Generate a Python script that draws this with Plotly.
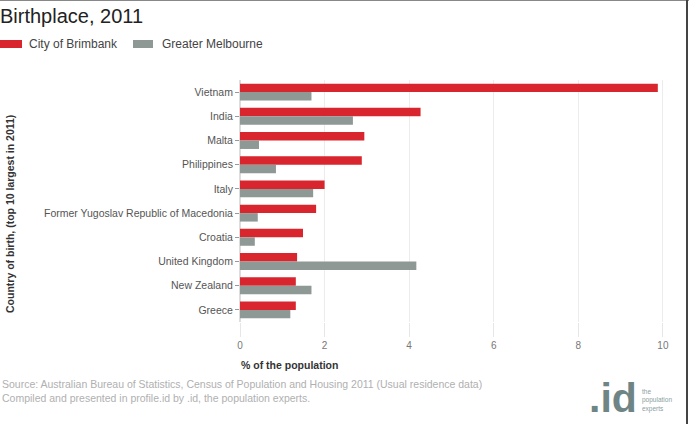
import plotly.graph_objects as go

countries = ["Vietnam", "India", "Malta", "Philippines", "Italy",
             "Former Yugoslav Republic of Macedonia", "Croatia",
             "United Kingdom", "New Zealand", "Greece"]
brimbank = [9.88, 4.27, 2.94, 2.88, 2.00, 1.80, 1.49, 1.35, 1.32, 1.32]
melbourne = [1.69, 2.67, 0.45, 0.85, 1.73, 0.42, 0.35, 4.17, 1.69, 1.19]
x_ticks = [0, 2, 4, 6, 8, 10]
series_names = ["City of Brimbank", "Greater Melbourne"]

RED = "#d9252d"
GREY = "#8e9894"
FONT = "Liberation Sans, Arial, sans-serif"

W, H = 689, 424
L, R, T, B = 240, 24, 80, 102
PW, PH = W - L - R, H - T - B


def px(x):
    return (x - L) / PW


def py(y):
    return (H - B - y) / PH


fig = go.Figure()
fig.add_trace(go.Bar(y=countries, x=brimbank, orientation="h", name=series_names[0],
                     marker=dict(color=RED, line=dict(width=0)), showlegend=False))
fig.add_trace(go.Bar(y=countries, x=melbourne, orientation="h", name=series_names[1],
                     marker=dict(color=GREY, line=dict(width=0)), showlegend=False))

fig.update_layout(
    width=W, height=H,
    margin=dict(l=L, r=R, t=T, b=B, autoexpand=False),
    paper_bgcolor="white", plot_bgcolor="white",
    barmode="group", bargap=0.3, bargroupgap=0.0,
    font=dict(family=FONT, size=10, color="#555"),
    title=dict(text="Birthplace, 2011", x=0.0, xanchor="left", xref="container",
               y=1 - 16 / H, yanchor="middle", yref="container",
               font=dict(family=FONT, size=20, color="#222")),
    showlegend=False,
    xaxis=dict(range=[0, 10.05], tickvals=x_ticks, showgrid=True, gridcolor="#ececec",
               zeroline=True, zerolinecolor="#dddddd", ticks="outside", ticklen=14,
               tickcolor="#e6e6e6", tickfont=dict(size=10, color="#777"),
               showline=False, fixedrange=True, automargin=False),
    yaxis=dict(autorange="reversed", ticks="outside", ticklen=4, tickcolor="#999",
               tickfont=dict(size=10.5, color="#555"), showline=False, showgrid=False,
               automargin=False),
)

# custom legend (wide swatches like the reference)
legend_items = [(0, 22, 27, RED, series_names[0]), (133, 153, 160, GREY, series_names[1])]
for x0, x1, tx, col, name in legend_items:
    fig.add_shape(type="rect", xref="paper", yref="paper", x0=px(x0), x1=px(x1),
                  y0=py(48), y1=py(40), fillcolor=col, line=dict(width=0))
    fig.add_annotation(text=name, xref="paper", yref="paper", x=px(tx), y=py(44),
                       xanchor="left", yanchor="middle", showarrow=False,
                       font=dict(family=FONT, size=12, color="#444"))

fig.add_annotation(text="<b>% of the population</b>", xref="paper", yref="paper",
                   x=px(239), y=py(365), xanchor="left", yanchor="middle", showarrow=False,
                   font=dict(family=FONT, size=10.5, color="#333"))
fig.add_annotation(text="<b>Country of birth, (top 10 largest in 2011)</b>", xref="paper", yref="paper",
                   x=px(10), y=py(214), xanchor="center", yanchor="middle", textangle=-90,
                   showarrow=False, font=dict(family=FONT, size=10.5, color="#333"))
fig.add_annotation(text="Source: Australian Bureau of Statistics, Census of Population and Housing 2011 (Usual residence data)<br>"
                        "Compiled and presented in profile.id by .id, the population experts.",
                   xref="paper", yref="paper", x=px(0), y=py(391), xanchor="left", yanchor="middle",
                   align="left", showarrow=False, font=dict(family=FONT, size=10.5, color="#b0b0b0"))
fig.add_annotation(text="<b>.id</b>", xref="paper", yref="paper", x=px(639), y=py(398), xanchor="right",
                   yanchor="middle", showarrow=False,
                   font=dict(family=FONT, size=41, color="#6f8585"))
fig.add_annotation(text="the<br>population<br>experts", xref="paper", yref="paper", x=px(640), y=py(400),
                   xanchor="left", yanchor="middle", align="left", showarrow=False,
                   font=dict(family=FONT, size=6.5, color="#8aa0a0"))

# frame edges of the screenshot
fig.add_shape(type="line", xref="paper", yref="paper", x0=px(0), x1=px(W), y0=py(0.5), y1=py(0.5),
              line=dict(color="#888", width=1))
fig.add_shape(type="line", xref="paper", yref="paper", x0=px(687), x1=px(687), y0=py(H), y1=py(0),
              line=dict(color="#444", width=2))

fig.write_html("out.html")
